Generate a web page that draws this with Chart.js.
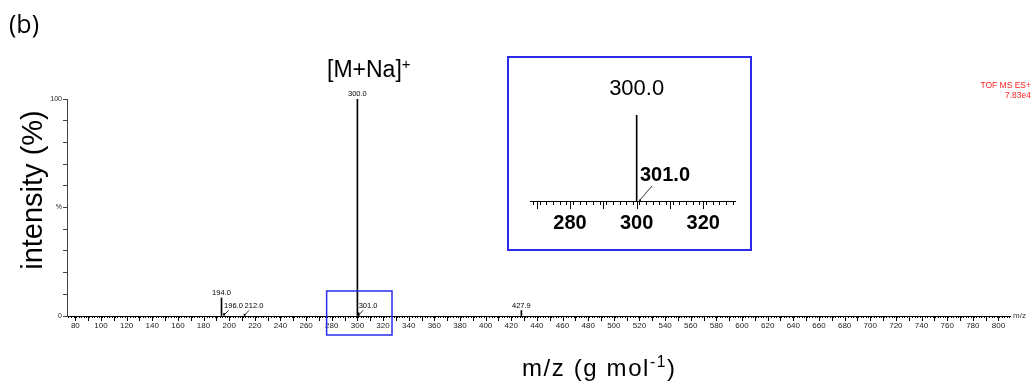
<!DOCTYPE html>
<html>
<head>
<meta charset="utf-8">
<script src="https://cdn.jsdelivr.net/npm/chart.js@4.4.1/dist/chart.umd.min.js"></script>
<style>
  body { margin: 0; background: #fff; }
  #wrap { position: relative; width: 1031px; height: 382px; overflow: hidden; font-family: "Liberation Sans", Arial, sans-serif; }
  #main { position: absolute; left: 0; top: 0; }
  #insetBox { position: absolute; left: 507px; top: 56px; width: 241px; height: 191px; border: 2px solid #2b2be8; }
  #inset { position: absolute; left: 0; top: 0; }
  .txt { position: absolute; white-space: nowrap; color: #000; line-height: 1; }
  .txt sup { font-size: 65%; vertical-align: 0.55em; line-height: 0; }
  #panel { left: 9px; top: 11px; font-family: "Open Sans", sans-serif; font-size: 25px; }
  #adduct { left: 327px; top: 58px; font-size: 23px; }
  #ytitle { left: 32px; top: 190px; font-size: 29px; transform: translate(-50%, -50%) rotate(-90deg); }
  #xtitle { left: 522px; top: 356px; font-size: 24px; letter-spacing: 1.6px; }
  #tof { right: 0px; top: 80px; font-size: 8.5px; color: #ff2020; text-align: right; line-height: 10px; }
</style>
</head>
<body>
<div id="wrap">
  <canvas id="main" width="1031" height="382"></canvas>
  <div id="insetBox"><canvas id="inset" width="241" height="191"></canvas></div>
  <div class="txt" id="panel">(b)</div>
  <div class="txt" id="adduct">[M+Na]<sup>+</sup></div>
  <div class="txt" id="ytitle">intensity (%)</div>
  <div class="txt" id="xtitle">m/z (g mol<sup>-1</sup>)</div>
  <div class="txt" id="tof">TOF MS ES+<br>7.83e4</div>
</div>
<script>
// peaks of the ESI+ spectrum (m/z, relative intensity in %)
const peakMz = [194.0, 196.0, 212.0, 300.0, 301.0, 427.9];
const peakIntensity = [8.3, 1.2, 0.8, 100, 1.5, 2.5];
const peakLabels = ['194.0', '196.0', '212.0', '300.0', '301.0', '427.9'];

// axis ranges
const mainRange = [74.5, 808];
const insetRange = [269, 328.5];
const zoomWindow = [276, 327];

const FONT = '"Liberation Sans", Arial, sans-serif';

const points = peakMz.map((mz, i) => ({ x: mz, y: peakIntensity[i] }));

// labels over each stick; small peaks get a slanted leader line
const peakLabelPlugin = {
    id: 'peakLabels',
    afterDatasetsDraw(chart, args, opts) {
        const ctx = chart.ctx;
        const xs = chart.scales.x, ys = chart.scales.y;
        const base = ys.getPixelForValue(0);
        ctx.save();
        ctx.fillStyle = '#000';
        ctx.strokeStyle = '#000';
        ctx.lineWidth = opts.leaderWidth;
        peakMz.forEach((mz, i) => {
            if (mz < xs.min || mz > xs.max) return;
            const px = xs.getPixelForValue(mz);
            const py = ys.getPixelForValue(peakIntensity[i]);
            const small = peakIntensity[i] < 2;
            const bold = small && opts.boldSmall;
            const size = small ? opts.smallSize : opts.size;
            ctx.font = (bold ? 'bold ' : '') + size + 'px ' + FONT;
            ctx.textBaseline = 'bottom';
            if (small) {
                const dx = size * 0.6, dy = size * 0.75;
                ctx.beginPath();
                ctx.moveTo(px, base - 1);
                ctx.lineTo(px + dx, base - dy);
                ctx.stroke();
                ctx.textAlign = 'left';
                ctx.fillText(peakLabels[i], px, base - dy - 1);
            } else {
                ctx.textAlign = 'center';
                ctx.fillText(peakLabels[i], px, py - opts.gap);
            }
        });
        ctx.restore();
    }
};

// longer tick marks every 10 units, plus extras drawn on the axes
const majorTickPlugin = {
    id: 'majorTicks',
    afterDraw(chart, args, opts) {
        const ctx = chart.ctx;
        const xs = chart.scales.x;
        const axisY = chart.chartArea.bottom;
        ctx.save();
        ctx.strokeStyle = '#000';
        ctx.lineWidth = 1;
        xs.ticks.forEach(t => {
            if (t.value % 10 !== 0) return;
            const px = Math.round(xs.getPixelForValue(t.value)) + 0.5;
            ctx.beginPath();
            ctx.moveTo(px, axisY);
            ctx.lineTo(px, axisY + opts.length);
            ctx.stroke();
        });
        if (opts.unit) {
            ctx.font = '8px ' + FONT;
            ctx.fillStyle = '#333';
            ctx.textAlign = 'left';
            ctx.textBaseline = 'middle';
            ctx.fillText(opts.unit, chart.chartArea.right + 3, axisY);
        }
        if (opts.window) {
            // zoom window outline around the base peak
            const x0 = xs.getPixelForValue(opts.window[0]);
            const x1 = xs.getPixelForValue(opts.window[1]);
            ctx.strokeStyle = '#2b2be8';
            ctx.lineWidth = 1.5;
            ctx.strokeRect(x0, axisY - 25, x1 - x0, 44);
        }
        ctx.restore();
    }
};

new Chart(document.getElementById('main'), {
    type: 'bar',
    data: {
        datasets: [{
            data: points,
            backgroundColor: '#000',
            barThickness: 1
        }]
    },
    options: {
        responsive: false,
        devicePixelRatio: 1,
        animation: false,
        layout: { padding: { left: 37, right: 21, top: 99, bottom: 46 } },
        plugins: {
            legend: { display: false },
            tooltip: { enabled: false },
            peakLabels: { size: 7.5, smallSize: 7.5, gap: 1, leaderWidth: 0.8, boldSmall: false },
            majorTicks: { length: 5, unit: 'm/z', window: zoomWindow }
        },
        scales: {
            x: {
                type: 'linear',
                min: mainRange[0],
                max: mainRange[1],
                afterFit(scale) { scale.height = 20; },
                grid: { drawOnChartArea: false, tickLength: 2, tickColor: '#000' },
                border: { color: '#000', width: 1 },
                ticks: {
                    stepSize: 2,
                    autoSkip: false,
                    includeBounds: false,
                    maxRotation: 0,
                    padding: 3,
                    color: '#222',
                    font: { size: 8, family: FONT },
                    callback: v => (v % 20 === 0 ? v : '')
                }
            },
            y: {
                min: 0,
                max: 100,
                afterFit(scale) { scale.width = 30; },
                grid: { drawOnChartArea: false, tickLength: 4, tickColor: '#444' },
                border: { color: '#444', width: 1 },
                ticks: {
                    stepSize: 10,
                    padding: 1,
                    color: '#222',
                    font: { size: 7, family: FONT },
                    callback: v => (v === 0 || v === 100 ? v : v === 50 ? '%' : '')
                }
            }
        }
    },
    plugins: [peakLabelPlugin, majorTickPlugin]
});

// enlarged view of the base peak region
new Chart(document.getElementById('inset'), {
    type: 'bar',
    data: {
        datasets: [{
            data: points,
            backgroundColor: '#000',
            barThickness: 1
        }]
    },
    options: {
        responsive: false,
        devicePixelRatio: 1,
        animation: false,
        layout: { padding: { left: 21, right: 15, top: 57, bottom: 0 } },
        plugins: {
            legend: { display: false },
            tooltip: { enabled: false },
            peakLabels: { size: 22, smallSize: 20, gap: 15, leaderWidth: 0.8, boldSmall: true },
            majorTicks: { length: 8 }
        },
        scales: {
            x: {
                type: 'linear',
                min: insetRange[0],
                max: insetRange[1],
                afterFit(scale) { scale.height = 48; },
                grid: { drawOnChartArea: false, tickLength: 4, tickColor: '#000' },
                border: { color: '#000', width: 1 },
                ticks: {
                    stepSize: 2,
                    autoSkip: false,
                    includeBounds: false,
                    maxRotation: 0,
                    padding: 6,
                    color: '#000',
                    font: { size: 20, weight: 'bold', family: FONT },
                    callback: v => (v % 20 === 0 ? v : '')
                }
            },
            y: { display: false, min: 0, max: 100 }
        }
    },
    plugins: [peakLabelPlugin, majorTickPlugin]
});
</script>
</body>
</html>
